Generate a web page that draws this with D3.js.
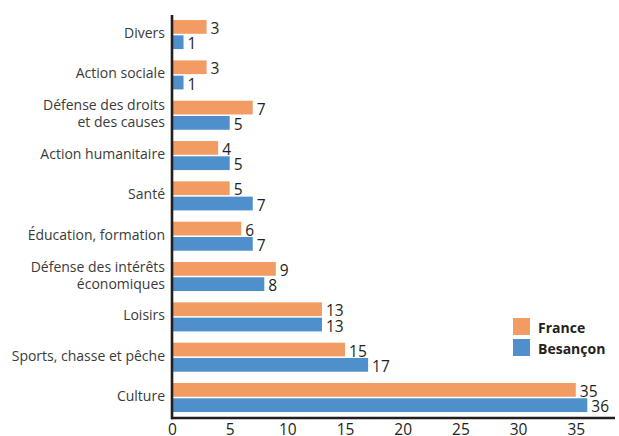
<!DOCTYPE html>
<html>
<head>
<meta charset="utf-8">
<script src="https://cdn.jsdelivr.net/npm/d3@7"></script>
<style>
  html, body { margin: 0; padding: 0; background: #fff; }
  svg { display: block; }
</style>
</head>
<body>
<svg id="chart" width="619" height="436"></svg>
<script>
// Categories, top to bottom (multi-line labels split by "\n")
const categories = [
  "Divers",
  "Action sociale",
  "Défense des droits\net des causes",
  "Action humanitaire",
  "Santé",
  "Éducation, formation",
  "Défense des intérêts\néconomiques",
  "Loisirs",
  "Sports, chasse et pêche",
  "Culture"
];
const seriesNames = ["France", "Besançon"];
const franceValues   = [3, 3, 7, 4, 5, 6, 9, 13, 15, 35];
const besanconValues = [1, 1, 5, 5, 7, 7, 8, 13, 17, 36];
const tickValues = [0, 5, 10, 15, 20, 25, 30, 35];

const colors = { "France": "#F29C63", "Besançon": "#4F8FCC" };
const font = "'Open Sans', 'Noto Sans', sans-serif";

const svg = d3.select("#chart");

const x = d3.scaleLinear().domain([0, 38.4]).range([172, 615]);
const y = d3.scaleBand().domain(categories).range([14.4, 417.7])
  .paddingInner(0.28).paddingOuter(0.14);
const ySub = d3.scaleBand().domain(seriesNames).range([0, y.bandwidth()]).paddingInner(0.1);

const rows = categories.map((c, i) => ({
  category: c,
  values: [
    { series: "France", value: franceValues[i] },
    { series: "Besançon", value: besanconValues[i] }
  ]
}));

const groups = svg.append("g").selectAll("g.row")
  .data(rows).join("g")
  .attr("class", "row")
  .attr("transform", d => `translate(0,${y(d.category)})`);

groups.selectAll("rect")
  .data(d => d.values).join("rect")
  .attr("x", x(0))
  .attr("y", d => ySub(d.series))
  .attr("width", d => x(d.value) - x(0))
  .attr("height", ySub.bandwidth())
  .attr("fill", d => colors[d.series]);

groups.selectAll("text.value")
  .data(d => d.values).join("text")
  .attr("class", "value")
  .attr("x", d => x(d.value) + 4)
  .attr("y", d => ySub(d.series) + ySub.bandwidth() / 2 + 1)
  .attr("dominant-baseline", "central")
  .attr("font-family", font)
  .attr("font-size", 15.5)
  .attr("fill", "#231f20")
  .text(d => d.value);

// Category labels
const labels = groups.append("text")
  .attr("x", 165)
  .attr("text-anchor", "end")
  .attr("font-family", font)
  .attr("font-size", 14)
  .attr("fill", "#3a3a3a");
labels.each(function(d) {
  const lines = d.category.split("\n");
  const lh = 17;
  const mid = y.bandwidth() / 2 - 2;
  d3.select(this).selectAll("tspan")
    .data(lines).join("tspan")
    .attr("x", 165)
    .attr("y", (l, i) => mid + (i - (lines.length - 1) / 2) * lh)
    .attr("dominant-baseline", "central")
    .text(l => l);
});

// Bottom axis
const xAxis = d3.axisBottom(x).tickValues(tickValues).tickSize(0).tickPadding(6);
const gx = svg.append("g").attr("transform", "translate(0,418)").call(xAxis);
gx.select(".domain").attr("stroke", "#231f20").attr("stroke-width", 2.6)
  .attr("d", `M${x(0) - 1},0H615`);
gx.selectAll("text")
  .attr("font-family", font)
  .attr("font-size", 15.5)
  .attr("fill", "#231f20");

// Vertical axis line
svg.append("line")
  .attr("x1", x(0)).attr("x2", x(0))
  .attr("y1", 15).attr("y2", 419.3)
  .attr("stroke", "#231f20").attr("stroke-width", 2.6);

// Legend
const legend = svg.append("g").attr("transform", "translate(513,318)");
legend.selectAll("rect")
  .data(seriesNames).join("rect")
  .attr("x", 0).attr("y", (d, i) => i * 21)
  .attr("width", 17).attr("height", 17)
  .attr("fill", d => colors[d]);
legend.selectAll("text")
  .data(seriesNames).join("text")
  .attr("x", 25).attr("y", (d, i) => i * 21 + 9)
  .attr("dominant-baseline", "central")
  .attr("font-family", font)
  .attr("font-size", 14)
  .attr("font-weight", "bold")
  .attr("fill", "#231f20")
  .text(d => d);
</script>
</body>
</html>
